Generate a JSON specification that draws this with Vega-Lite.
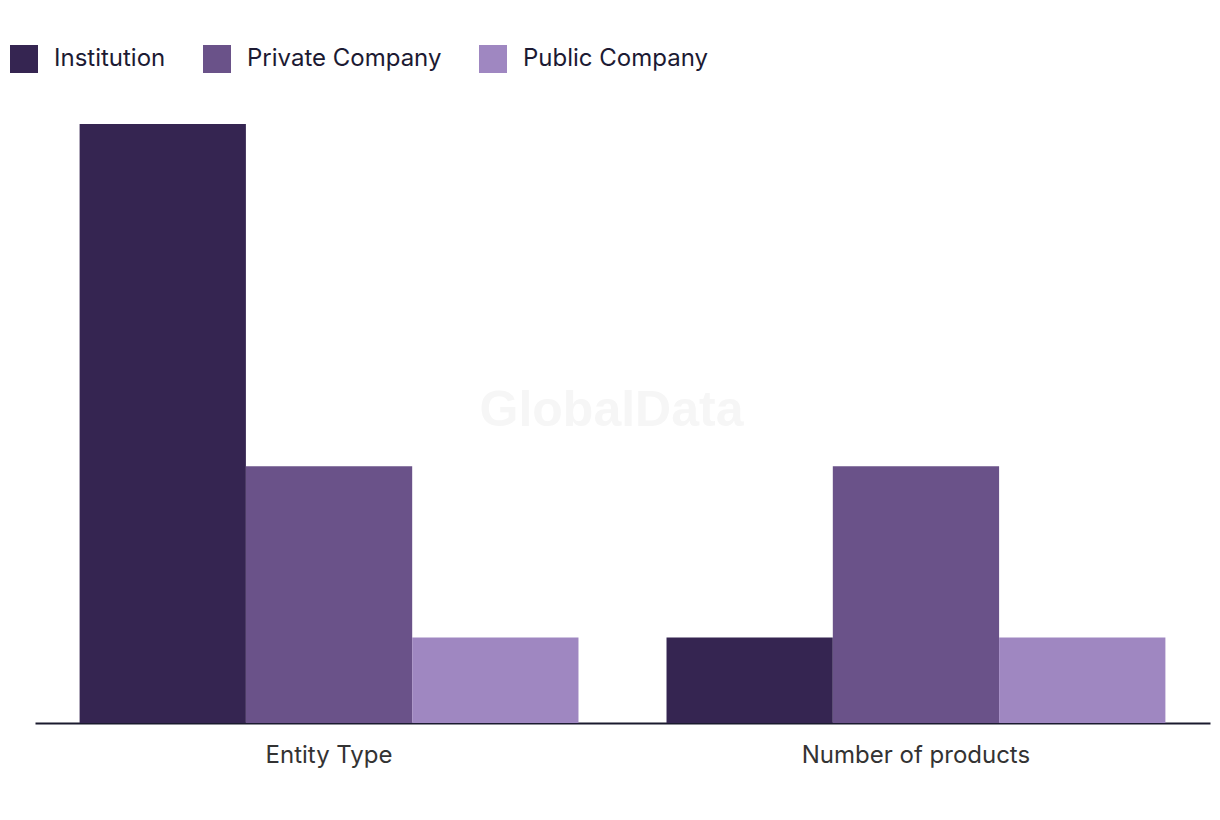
{
  "$schema": "https://vega.github.io/schema/vega-lite/v6.json",
  "autosize": "none",
  "padding": {"left": 35, "top": 124, "right": 10, "bottom": 97},
  "width": 1175,
  "height": 599,
  "background": "white",
  "config": {"view": {"stroke": null}, "font": "Inter"},
  "data": {
    "values": [
      {"category": "Entity Type", "type": "Institution", "value": 7},
      {"category": "Entity Type", "type": "Private Company", "value": 3},
      {"category": "Entity Type", "type": "Public Company", "value": 1},
      {"category": "Number of products", "type": "Institution", "value": 1},
      {"category": "Number of products", "type": "Private Company", "value": 3},
      {"category": "Number of products", "type": "Public Company", "value": 1}
    ]
  },
  "layer": [
    {
      "mark": {"type": "text", "text": "GlobalData", "fontSize": 50, "fontWeight": "bold", "font": "Liberation Sans", "color": "#f6f6f6", "dy": -13, "dx": -11},
      "data": {"values": [{"w": "GlobalData"}]},
      "encoding": {}
    },
    {
      "mark": {"type": "bar"},
      "encoding": {
        "x": {
          "field": "category", "type": "nominal", "sort": null,
          "scale": {"paddingInner": 0.15, "paddingOuter": 0.076},
          "axis": {
            "title": null, "labelAngle": 0, "ticks": false, "labelLimit": 0,
            "labelFontSize": 24, "labelColor": "#333333", "labelPadding": 20,
            "domainColor": "#1a1a2e", "domainWidth": 2, "grid": false
          }
        },
        "xOffset": {"field": "type", "type": "nominal", "sort": null, "scale": {"paddingInner": 0, "paddingOuter": 0}},
        "y": {
          "field": "value", "type": "quantitative",
          "scale": {"domain": [0, 7], "nice": false},
          "axis": null
        },
        "color": {
          "field": "type", "type": "nominal", "sort": null,
          "scale": {"domain": ["Institution", "Private Company", "Public Company"], "range": ["#352551", "#6a5289", "#9f87c1"]},
          "legend": {
            "title": null, "orient": "none", "direction": "horizontal",
            "legendX": -25, "legendY": -79, "labelLimit": 0,
            "symbolType": "square", "symbolSize": 784, "symbolStrokeWidth": 0,
            "labelFontSize": 24, "labelColor": "#1c1a33", "labelOffset": 16,
            "columnPadding": 37, "symbolOpacity": 1
          }
        }
      }
    }
  ]
}
